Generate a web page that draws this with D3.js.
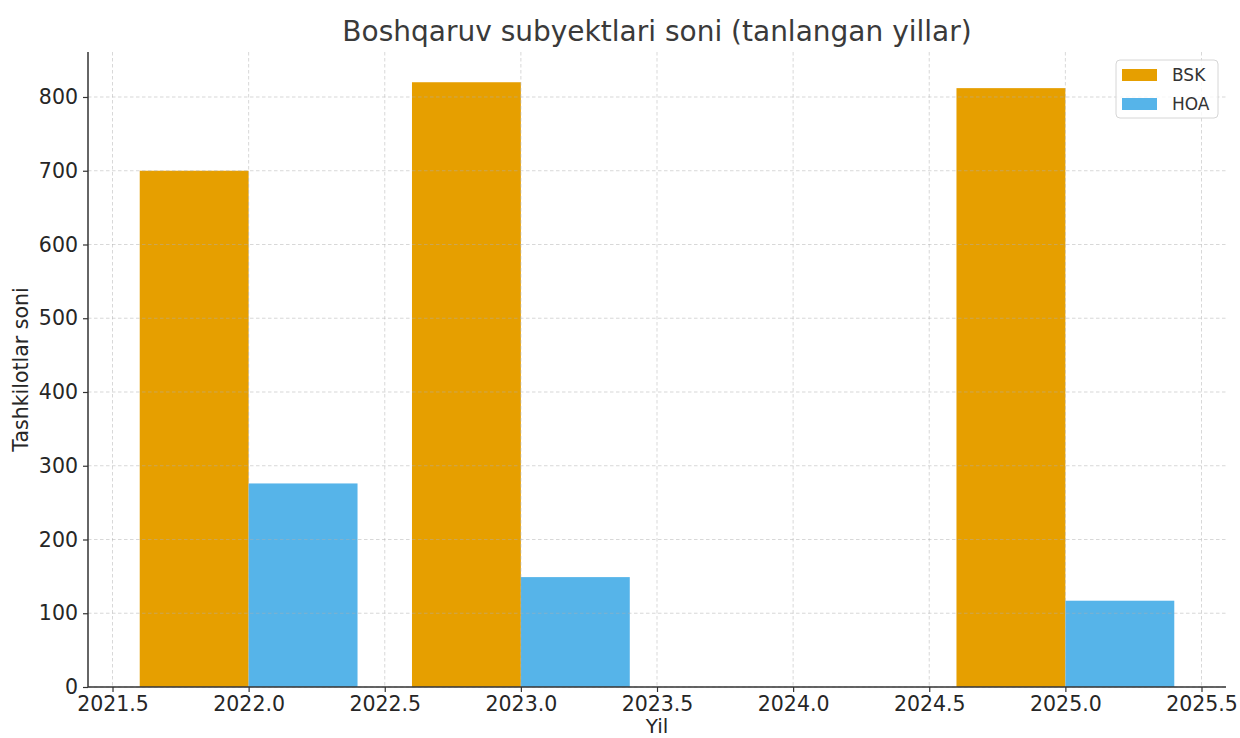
<!DOCTYPE html>
<html><head><meta charset="utf-8">
<script src="https://cdn.jsdelivr.net/npm/d3@7"></script>
<style>body{margin:0;background:#fff;}svg{display:block;font-family:"DejaVu Sans",sans-serif;}</style>
</head><body><svg id="c" width="1240" height="738"></svg>
<script>
const years = [2022, 2023, 2025];
const seriesNames = ["BSK", "HOA"];
const bskValues = [700, 820, 812];
const hoaValues = [276, 149, 117];
const xTicks = [2021.5, 2022.0, 2022.5, 2023.0, 2023.5, 2024.0, 2024.5, 2025.0, 2025.5];
const yTicks = [0, 100, 200, 300, 400, 500, 600, 700, 800];
const colors = ["#E69F00", "#56B4E9"];

const svg = d3.select("#c");
const m = {l: 88, r: 1226, t: 52, b: 687};
const barW = 0.4;
const xmin = d3.min(years) - barW, xmax = d3.max(years) + barW;
const xpad = (xmax - xmin) * 0.05;
const x = d3.scaleLinear().domain([xmin - xpad, xmax + xpad]).range([m.l, m.r]);
const ymaxData = d3.max([...bskValues, ...hoaValues]);
const y = d3.scaleLinear().domain([0, ymaxData * 1.05]).range([m.b, m.t]);

const series = [bskValues, hoaValues];
const offsets = [-barW/2, barW/2];
series.forEach((vals, si) => {
  svg.append("g").selectAll("rect").data(vals).join("rect")
    .attr("x", (d,i) => x(years[i] + offsets[si] - barW/2))
    .attr("width", x(barW) - x(0))
    .attr("y", d => y(d))
    .attr("height", d => y(0) - y(d))
    .attr("fill", colors[si]);
});

// grid (above bars)
const grid = svg.append("g").attr("stroke", "#b0b0b0").attr("stroke-opacity", 0.55)
  .attr("stroke-dasharray", "3.5,2.5").attr("stroke-width", 0.9);
grid.selectAll("line.h").data(yTicks).join("line")
  .attr("x1", m.l).attr("x2", m.r).attr("y1", d => y(d)).attr("y2", d => y(d));
grid.selectAll("line.v").data(xTicks).join("line")
  .attr("y1", m.t).attr("y2", m.b).attr("x1", d => x(d)).attr("x2", d => x(d));

const axisColor = "#333";
const xAxis = svg.append("g").attr("transform", `translate(0,${m.b})`)
  .call(d3.axisBottom(x).tickValues(xTicks).tickFormat(d3.format(".1f")).tickSizeOuter(0).tickSize(5).tickPadding(4));
const yAxis = svg.append("g").attr("transform", `translate(${m.l},0)`)
  .call(d3.axisLeft(y).tickValues(yTicks).tickSizeOuter(0).tickSize(5).tickPadding(5));
[xAxis, yAxis].forEach(a => {
  a.select(".domain").attr("stroke", axisColor).attr("stroke-width", 1.5);
  a.selectAll(".tick line").attr("stroke", axisColor).attr("stroke-width", 1.2);
  a.selectAll("text").attr("fill", "#262626").style("font-size", "20.5px").style("font-family", "DejaVu Sans");
});
xAxis.select(".domain").attr("d", `M${m.l},0H${m.r}`);
yAxis.select(".domain").attr("d", `M0,${m.t}V${m.b}`);

svg.append("text").attr("x", (m.l + m.r)/2).attr("y", 41).attr("text-anchor", "middle")
  .attr("fill", "#3a3a3a").style("font-size", "28px").text("Boshqaruv subyektlari soni (tanlangan yillar)");
svg.append("text").attr("x", (m.l + m.r)/2).attr("y", 733).attr("text-anchor", "middle")
  .attr("fill", "#262626").style("font-size", "20px").text("Yil");
svg.append("text").attr("transform", `translate(28,${(m.t+m.b)/2}) rotate(-90)`).attr("text-anchor", "middle")
  .attr("fill", "#262626").style("font-size", "20.5px").text("Tashkilotlar soni");

// legend
const lg = svg.append("g").attr("transform", "translate(1116,60)");
lg.append("rect").attr("width", 102).attr("height", 58).attr("rx", 4)
  .attr("fill", "#fff").attr("fill-opacity", 0.8).attr("stroke", "#d6d6d6");
seriesNames.forEach((n, i) => {
  lg.append("rect").attr("x", 6).attr("y", 9 + i*29).attr("width", 35).attr("height", 12).attr("fill", colors[i]);
  lg.append("text").attr("x", 56).attr("y", 21 + i*29).attr("fill", "#333").style("font-size", "17px").text(n);
});
</script></body></html>
